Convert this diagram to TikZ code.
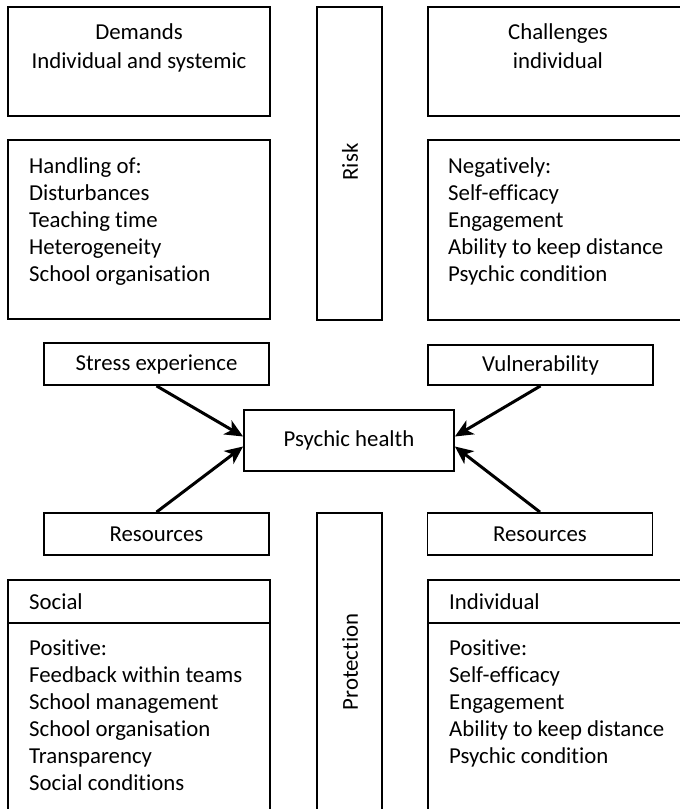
\documentclass[tikz,border=0pt]{standalone}
\usepackage{fontspec}
\setmainfont{Carlito}[Ligatures=NoCommon]
\usetikzlibrary{arrows.meta,calc}
\begin{document}
\begin{tikzpicture}[x=1pt,y=-1pt,
  frame/.style={draw=black,line width=1.8pt},
  smallbox/.style={draw=black,line width=1.8pt,rectangle,inner sep=0pt,
    font=\fontsize{22.8}{27}\selectfont},
  listtext/.style={anchor=base west,inner sep=0pt,
    font=\fontsize{22.8}{27}\selectfont},
  headtext/.style={anchor=base,inner sep=0pt,
    font=\fontsize{22.8}{29}\selectfont},
  sidetext/.style={inner sep=0pt,rotate=90,font=\fontsize{22.8}{27}\selectfont},
  arr/.style={line width=3pt,-{Stealth[length=18pt,width=16pt,inset=5pt]}}]
\useasboundingbox (0,0) rectangle (680,809);
\clip (0,0) rectangle (680,809);

% ---- upper half: risk ----
\draw[frame] (8,7) rectangle (270,116);
\node[headtext] (demands) at (139,39)
  {\begin{tabular}[t]{@{}c@{}}Demands\\Individual and systemic\end{tabular}};
\draw[frame] (8,140) rectangle (270,319);
\node[listtext] (handling) at (29,173)
  {\begin{tabular}[t]{@{}l@{}}Handling of:\\Disturbances\\Teaching time\\Heterogeneity\\School organisation\end{tabular}};

\draw[frame] (317,7) rectangle (382,320);
\node[sidetext] (risk) at (350,162) {Risk};

\draw[frame] (428,7) rectangle (690,116);
\node[headtext] (challenges) at (558,39)
  {\begin{tabular}[t]{@{}c@{}}Challenges\\individual\end{tabular}};
\draw[frame] (428,140) rectangle (690,320);
\node[listtext] (negatively) at (448,173)
  {\begin{tabular}[t]{@{}l@{}}Negatively:\\Self-efficacy\\Engagement\\Ability to keep distance\\Psychic condition\end{tabular}};

% ---- middle: influences on psychic health ----
\node[smallbox,minimum width=225pt,minimum height=42pt] (stress) at (156.5,364) {Stress experience};
\node[smallbox,minimum width=225pt,minimum height=40pt] (vul) at (540.5,365) {Vulnerability};
\node[smallbox,minimum width=210pt,minimum height=61pt] (psy) at (349,440.5) {Psychic health};
\node[smallbox,minimum width=225pt,minimum height=42pt] (resL) at (156.5,534) {Resources};
\node[smallbox,minimum width=225pt,minimum height=42pt] (resR) at (540,534) {Resources};

\draw[arr] (stress.south) -- ($(psy.west)+(0,-4)$);
\draw[arr] (resL.north) -- ($(psy.west)+(0,6)$);
\draw[arr] (vul.south) -- ($(psy.east)+(0,-4)$);
\draw[arr] (resR.north) -- ($(psy.east)+(0,6)$);

% ---- lower half: protection ----
\draw[frame] (8,580) rectangle (270,815);
\draw[frame] (8,623) -- (270,623);
\node[listtext] (social) at (29,609) {Social};
\node[listtext] (socialpos) at (29,655)
  {\begin{tabular}[t]{@{}l@{}}Positive:\\Feedback within teams\\School management\\School organisation\\Transparency\\Social conditions\end{tabular}};

\draw[frame] (317,513) rectangle (382,815);
\node[sidetext] (protection) at (350,662) {Protection};

\draw[frame] (428,580) rectangle (690,815);
\draw[frame] (428,623) -- (690,623);
\node[listtext] (individual) at (449,609) {Individual};
\node[listtext] (indivpos) at (449,655)
  {\begin{tabular}[t]{@{}l@{}}Positive:\\Self-efficacy\\Engagement\\Ability to keep distance\\Psychic condition\end{tabular}};
\end{tikzpicture}
\end{document}
